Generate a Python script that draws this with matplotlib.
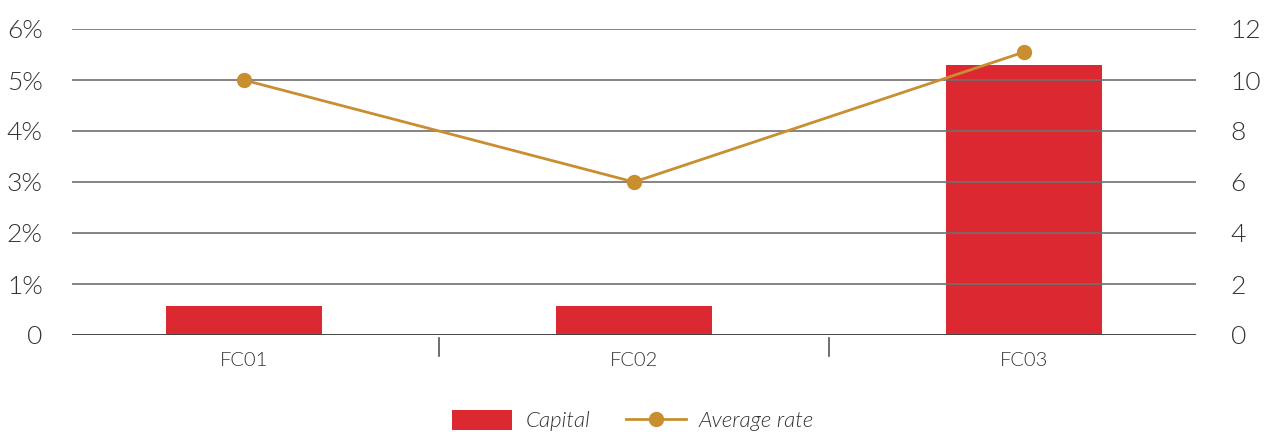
import matplotlib
matplotlib.use("Agg")
import matplotlib.pyplot as plt
from matplotlib.lines import Line2D
from matplotlib.patches import Patch

categories = ["FC01", "FC02", "FC03"]
capital = [1.15, 1.15, 10.6]          # right axis (0-12)
average_rate = [5.0, 3.0, 5.55]       # left axis (%)
left_ticks = [0, 1, 2, 3, 4, 5, 6]
left_labels = ["0", "1%", "2%", "3%", "4%", "5%", "6%"]
right_ticks = [0, 2, 4, 6, 8, 10, 12]

RED = "#DC2830"
GOLD = "#C88E30"
TXT = "#333333"

plt.rcParams['font.family'] = ['Lato', 'DejaVu Sans']
plt.rcParams['font.weight'] = 300

fig = plt.figure(figsize=(12.66, 4.32), dpi=100)
ax = fig.add_axes([72/1266, 1-335/432, (1196-72)/1266, (335-29)/432])
ax2 = ax.twinx()

x = list(range(len(categories)))
ax2.bar(x, capital, width=0.4, color=RED, zorder=2)
ax2.set_ylim(0, 12)
ax2.set_yticks(right_ticks)
ax2.set_yticklabels([str(v) for v in right_ticks])

ax.set_ylim(0, 6)
ax.set_yticks(left_ticks)
ax.set_yticklabels(left_labels)
ax.set_xlim(-0.44, 2.44)
ax.set_xticks(x)
ax.set_xticklabels(categories)

for t in left_ticks[1:]:
    ax.axhline(t, color="#6f6f6f", lw=1.2, zorder=0)
ax.axhline(0, color="#444444", lw=1.4, zorder=0)

ax.set_zorder(ax2.get_zorder() + 1)
ax.patch.set_visible(False)
ax.plot(x, average_rate, color=GOLD, lw=2, marker="o", markersize=10, zorder=5)

for a in (ax, ax2):
    for s in a.spines.values():
        s.set_visible(False)
    a.tick_params(axis='y', length=0, labelsize=19, labelcolor=TXT)
ax.tick_params(axis='y', pad=21)
ax2.tick_params(axis='y', pad=25)
ax.tick_params(axis='x', length=0, labelsize=14.5, labelcolor=TXT, pad=12)
ax2.tick_params(axis='x', length=0)

for sep in [0.5, 1.5]:
    ax.plot([sep, sep], [-0.06, -0.42], color="#555555", lw=1.2, clip_on=False, zorder=1)

handles = [Patch(facecolor=RED, edgecolor='none'),
           Line2D([0], [0], color=GOLD, lw=2, marker="o", markersize=10)]
leg = fig.legend(handles, ["Capital", "Average rate"], loc="lower center",
                 bbox_to_anchor=(0.5, -0.045), ncol=2, frameon=False,
                 prop={'style': 'italic', 'size': 16, 'weight': 300},
                 handlelength=2.7, handleheight=1.0, columnspacing=1.6,
                 handletextpad=0.6)
for t in leg.get_texts():
    t.set_color(TXT)

fig.savefig("out.png", dpi=100)
